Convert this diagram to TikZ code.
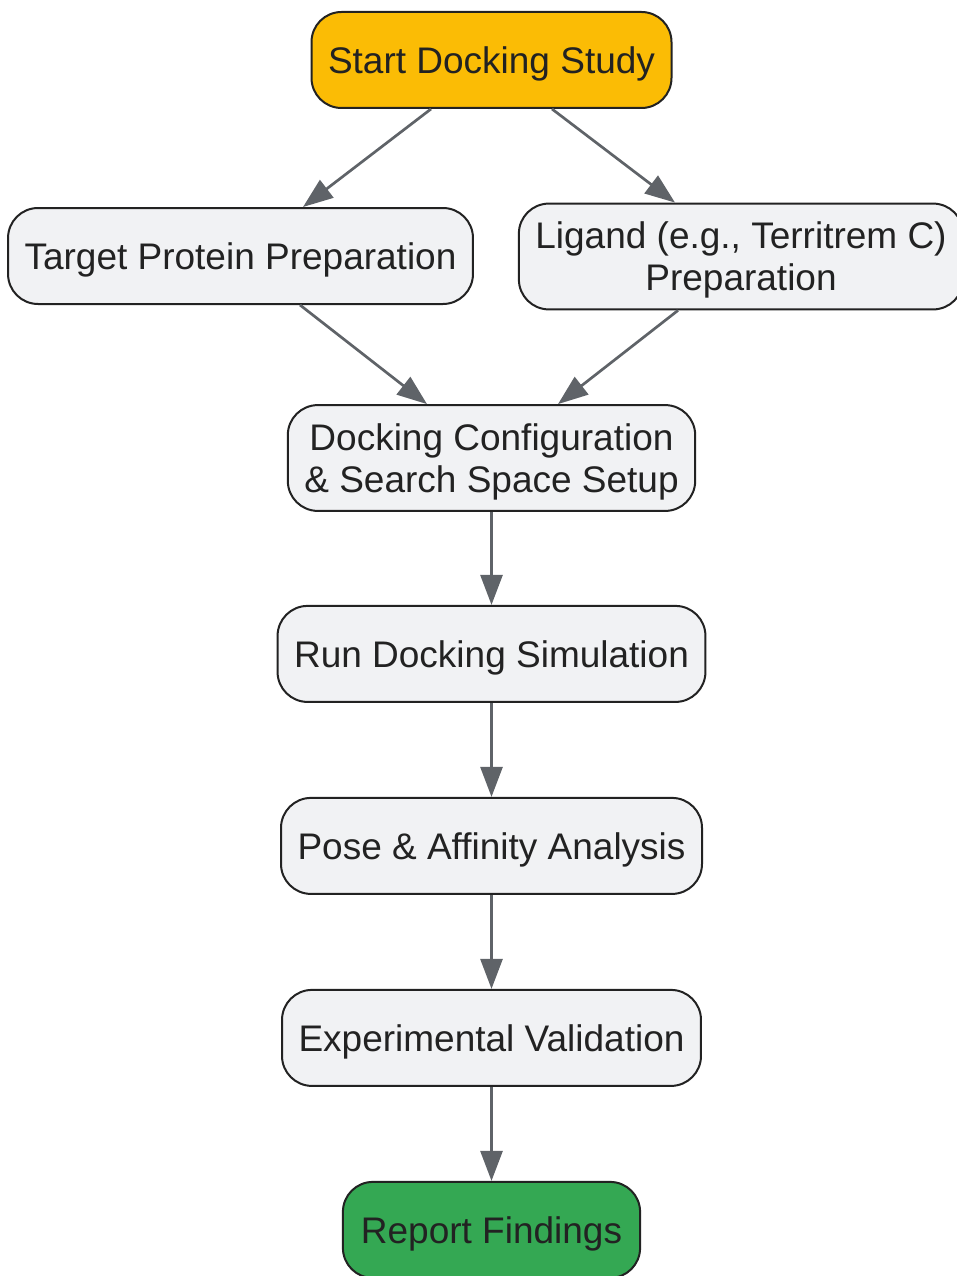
\documentclass[tikz,border=0pt]{standalone}
\usepackage{fontspec}
\setmainfont{Liberation Sans}
\usepackage{xcolor}
\usetikzlibrary{arrows.meta,positioning,calc}

\definecolor{startfill}{HTML}{FBBC05}
\definecolor{endfill}{HTML}{34A853}
\definecolor{boxfill}{HTML}{F1F2F4}
\definecolor{edgegray}{HTML}{5F6368}
\definecolor{inkdark}{HTML}{222222}

\begin{document}
\begin{tikzpicture}[x=1pt, y=-1pt, node distance=94pt,
    stepbox/.style={rectangle, rounded corners=30pt, draw=inkdark, line width=2pt, fill=boxfill,
        text=inkdark, align=center, font=\fontsize{37}{42}\selectfont,
        inner xsep=16.5pt, inner ysep=14pt, minimum height=96pt, text depth=0pt},
    twoline/.style={inner ysep=18.5pt},
    arrow/.style={-{Triangle[length=30pt,width=22pt]}, draw=edgegray, fill=edgegray, line width=2.7pt}]

    \useasboundingbox (0,0) rectangle (956,1276);

    \node[stepbox, fill=startfill] (start) at (491.5,60) {Start Docking Study};
    \node[stepbox] (target) at (240.5,256) {Target Protein Preparation};
    \node[stepbox, twoline] (ligand) at (741,256.5) {Ligand (e.g., Territrem C)\\Preparation};
    \node[stepbox, twoline] (config) at (491.5,458) {Docking Configuration\\\& Search Space Setup};
    \node[stepbox, below=93pt of config] (run) {Run Docking Simulation};
    \node[stepbox, below=of run] (pose) {Pose \& Affinity Analysis};
    \node[stepbox, below=of pose] (valid) {Experimental Validation};
    \node[stepbox, fill=endfill, inner xsep=18pt, below=of valid] (report) {Report Findings};

    \draw[arrow] ([xshift=-60.5pt]start.south) -- ([xshift=62.5pt]target.north);
    \draw[arrow] ([xshift=60.5pt]start.south) -- ([xshift=-66pt]ligand.north);
    \draw[arrow] ([xshift=59.5pt]target.south) -- ([xshift=-64.5pt]config.north);
    \draw[arrow] ([xshift=-63pt]ligand.south) -- ([xshift=66.5pt]config.north);
    \draw[arrow] (config) -- (run);
    \draw[arrow] (run) -- (pose);
    \draw[arrow] (pose) -- (valid);
    \draw[arrow] (valid) -- (report);
\end{tikzpicture}
\end{document}
